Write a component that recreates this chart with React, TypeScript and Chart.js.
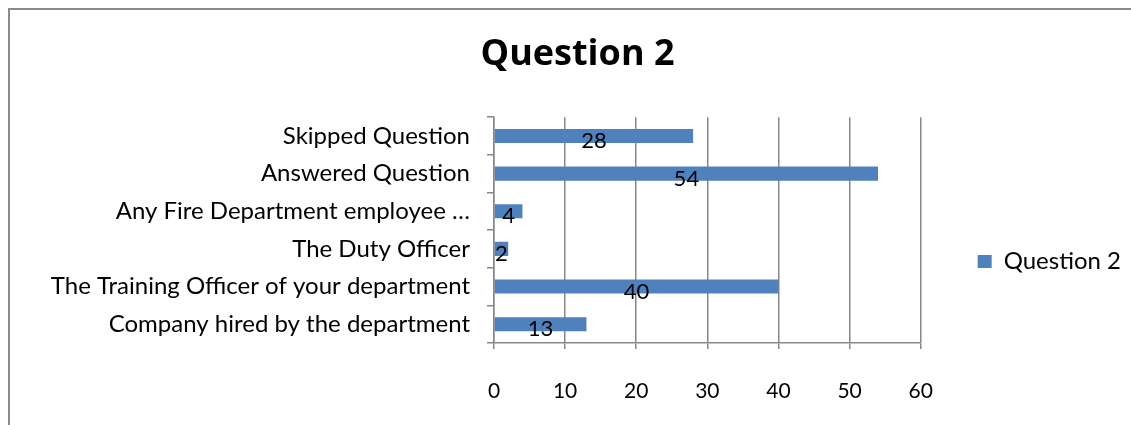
import React, { useEffect, useRef } from "react";
import { Chart, registerables } from "chart.js";

Chart.register(...registerables);

const categories = [
  "Skipped Question",
  "Answered Question",
  "Any Fire Department employee …",
  "The Duty Officer",
  "The Training Officer of your department",
  "Company hired by the department",
];
const values = [28, 54, 4, 2, 40, 13];
const seriesName = "Question 2";
const chartTitle = "Question 2";
const xMin = 0;
const xMax = 60;
const xStep = 10;

const FONT = "Lato, 'Noto Sans', sans-serif";
const TITLE_FONT = "'Open Sans', Lato, sans-serif";
const GRID = "#878787";
const BAR = "#4f81bd";

const framePlugin = {
  id: "frame",
  beforeDraw(chart: any) {
    const ctx = chart.ctx;
    ctx.save();
    ctx.fillStyle = "#ffffff";
    ctx.fillRect(0, 0, chart.width, chart.height);
    ctx.strokeStyle = "#8a8a8a";
    ctx.lineWidth = 2;
    ctx.beginPath();
    ctx.moveTo(9, chart.height + 5);
    ctx.lineTo(9, 9);
    ctx.lineTo(chart.width + 5, 9);
    ctx.stroke();
    ctx.restore();
  },
};

const labelPlugin = {
  id: "barLabels",
  afterDatasetsDraw(chart: any) {
    const ctx = chart.ctx;
    const meta = chart.getDatasetMeta(0);
    const data = chart.data.datasets[0].data;
    ctx.save();
    ctx.fillStyle = "#000000";
    ctx.font = `22px ${FONT}`;
    ctx.textAlign = "center";
    ctx.textBaseline = "middle";
    meta.data.forEach((bar: any, i: number) => {
      const p = bar.getProps(["x", "y", "base"], true);
      ctx.fillText(String(data[i]), (p.x + p.base) / 2, p.y + 5);
    });
    ctx.restore();
  },
};

export default function App() {
  const ref = useRef<HTMLCanvasElement | null>(null);
  useEffect(() => {
    if (!ref.current) return;
    const chart = new Chart(ref.current, {
      type: "bar",
      data: {
        labels: categories,
        datasets: [
          {
            label: seriesName,
            data: values,
            backgroundColor: BAR,
            borderWidth: 0,
            barPercentage: 0.75,
            categoryPercentage: 0.5,
          },
        ],
      },
      options: {
        indexAxis: "y",
        animation: false,
        responsive: false,
        layout: { padding: { left: 24, right: 0, top: 0, bottom: 0 } },
        font: { family: FONT },
        plugins: {
          title: {
            display: true,
            text: chartTitle,
            color: "#000000",
            font: { family: TITLE_FONT, size: 36, weight: "bold" },
            padding: { top: 33, bottom: 41 },
          },
          legend: {
            display: true,
            position: "right",
            title: {
              display: true,
              text: "",
              font: { family: FONT, size: 10 },
              padding: { top: 86, bottom: 0 },
            },
            labels: {
              color: "#000000",
              font: { family: FONT, size: 24 },
              boxWidth: 14,
              boxHeight: 13,
              padding: 57,
            },
          },
          tooltip: { enabled: false },
        },
        scales: {
          x: {
            min: xMin,
            max: xMax,
            ticks: {
              stepSize: xStep,
              color: "#000000",
              font: { family: FONT, size: 21 },
              padding: 30,
            },
            grid: {
              color: GRID,
              lineWidth: 1.5,
              tickLength: 6,
              drawTicks: true,
            },
            border: { display: true, color: GRID, width: 1.5 },
            afterFit(scale: any) {
              scale.height = 82;
            },
          },
          y: {
            ticks: {
              color: "#000000",
              font: { family: FONT, size: 24 },
              padding: 17,
              autoSkip: false,
            },
            grid: {
              drawOnChartArea: false,
              drawTicks: true,
              tickLength: 7,
              color: GRID,
              lineWidth: 1.5,
              offset: true,
            },
            border: { display: true, color: GRID, width: 1.5 },
            afterFit(scale: any) {
              scale.width = 470;
            },
          },
        },
      },
      plugins: [framePlugin, labelPlugin],
    } as any);
    return () => chart.destroy();
  }, []);
  return (
    <div style={{ position: "fixed", left: 0, top: 0, width: 1131, height: 425, overflow: "hidden" }}>
      <canvas ref={ref} width={1131} height={425} style={{ display: "block" }} />
    </div>
  );
}
